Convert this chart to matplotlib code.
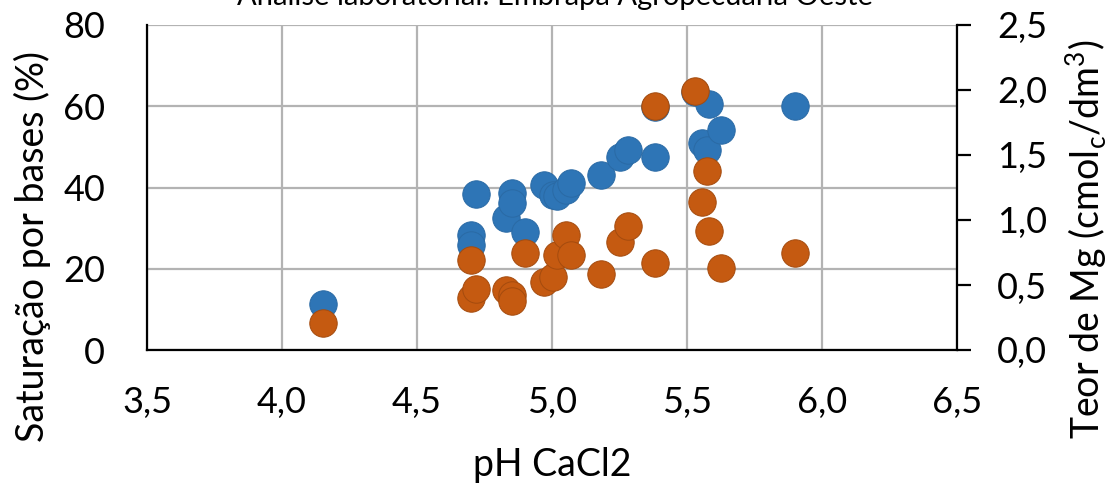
import numpy as np
import matplotlib.pyplot as plt

# Soil samples: pH, base saturation (%) and Mg content (cmolc/dm3)
ph = [4.15, 4.70, 4.70, 4.72, 4.83, 4.85, 4.85, 4.90, 4.97, 5.005, 5.017, 5.05,
      5.07, 5.18, 5.25, 5.28, 5.38, 5.38, 5.53, 5.555, 5.575, 5.58, 5.625, 5.90]
sat_bases = [11.3, 28.3, 25.8, 38.4, 32.4, 38.6, 36.1, 29.1, 40.6, 38.2, 38.0, 39.4,
             41.0, 43.0, 47.6, 49.2, 47.6, 59.8, 63.5, 50.9, 49.2, 60.5, 54.2, 60.1]
mg = [0.21, 0.69, 0.40, 0.47, 0.46, 0.42, 0.38, 0.744, 0.526, 0.564, 0.731, 0.885,
      0.731, 0.585, 0.833, 0.954, 0.667, 1.877, 1.99, 1.141, 1.379, 0.918, 0.628, 0.749]

x_ticks = [3.5, 4.0, 4.5, 5.0, 5.5, 6.0, 6.5]
left_ticks = [0, 20, 40, 60, 80]
right_ticks = [0.0, 0.5, 1.0, 1.5, 2.0, 2.5]

def br(v, nd):
    return f"{v:.{nd}f}".replace(".", ",")

plt.rcParams['font.family'] = ['Lato', 'DejaVu Sans']
blue = '#2E75B6'
orange = '#C55A11'
fs = 26
fs_lab = 27

fig = plt.figure(figsize=(11.10, 4.83), dpi=100)
ax = fig.add_axes([147 / 1110, 1 - 350 / 483, 810 / 1110, 325 / 483])
ax2 = ax.twinx()

ax.scatter(ph, sat_bases, s=390, color=blue, edgecolor='#2a6aa5', linewidth=0.7, zorder=3)
ax2.scatter(ph, mg, s=390, color=orange, edgecolor='#a44b0e', linewidth=0.7, zorder=3)

ax.set_xlim(3.5, 6.5)
ax.set_ylim(0, 80)
ax2.set_ylim(0, 2.5)
ax.set_xticks(x_ticks)
ax.set_xticklabels([br(v, 1) for v in x_ticks])
ax.set_yticks(left_ticks)
ax.set_yticklabels([str(v) for v in left_ticks])
ax2.set_yticks(right_ticks)
ax2.set_yticklabels([br(v, 1) for v in right_ticks])

ax.grid(True, color='#b3b3b3', linewidth=1.6)
ax.set_axisbelow(True)
ax.spines['top'].set_visible(False)
ax2.spines['top'].set_visible(False)
ax.spines['right'].set_visible(False)
ax2.spines['left'].set_visible(False)
ax2.spines['bottom'].set_visible(False)
for sp in [ax.spines['left'], ax.spines['bottom'], ax2.spines['right']]:
    sp.set_linewidth(1.6)
    sp.set_color('black')

ax.tick_params(axis='x', length=0, labelsize=fs, pad=26)
ax.tick_params(axis='y', length=0, labelsize=fs, pad=30)
ax2.tick_params(axis='y', length=10, width=1.6, direction='out', labelsize=fs, pad=19)

fig.text(552 / 1110, 1 - 476 / 483, 'pH CaCl2', ha='center', va='baseline', fontsize=fs_lab)
fig.text(32 / 1110, 1 - 246 / 483, 'Saturação por bases (%)', rotation=90,
         ha='center', va='center', fontsize=fs_lab)
fig.text(1087 / 1110, 1 - 239 / 483, r'Teor de Mg (cmol$_\mathregular{c}$/dm$^\mathregular{3}$)',
         rotation=90, ha='center', va='center', fontsize=fs_lab)
fig.text(555 / 1110, 1 - 5 / 483, 'Análise laboratorial: Embrapa Agropecuária Oeste',
         ha='center', va='baseline', fontsize=21)

fig.savefig('out.png', dpi=100)
